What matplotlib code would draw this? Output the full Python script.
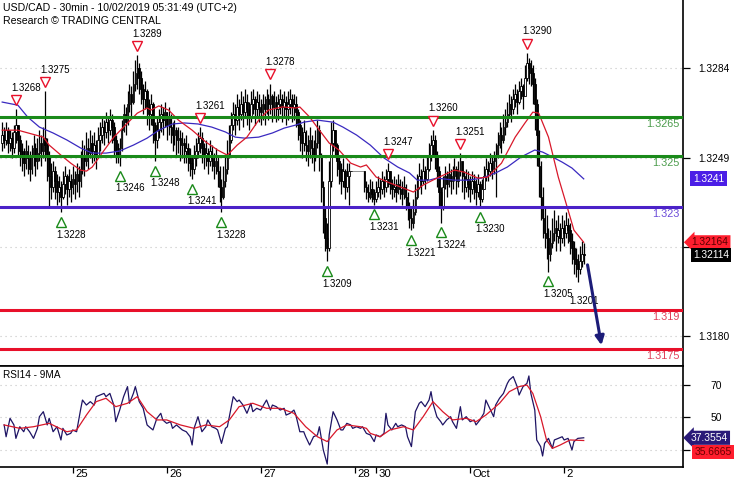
import numpy as np
import matplotlib.pyplot as plt
from matplotlib.transforms import offset_copy, ScaledTranslation, blended_transform_factory

plt.rcParams['font.family'] = ['Liberation Sans', 'DejaVu Sans']

# USD/CAD 30min bars, prices in pips above 1.3200 (one value per bar)
base = 1.3200
first_open_pips = 55
close_pips = [58, 56, 60, 55, 57, 53, 59, 62, 56, 52,
              50, 47, 52, 49, 45, 50, 53, 48, 51, 55,
              52, 57, 54, 50, 42, 38, 44, 40, 36, 38,
              34, 39, 42, 37, 40, 38, 41, 39, 43, 40,
              45, 50, 48, 53, 51, 55, 52, 54, 50, 56,
              58, 61, 59, 63, 60, 64, 61, 56, 52, 50,
              53, 60, 66, 63, 70, 74, 71, 78, 82, 84,
              80, 76, 72, 75, 69, 66, 70, 62, 56, 60,
              63, 66, 64, 67, 62, 65, 61, 58, 60, 56,
              57, 54, 55, 52, 53, 50, 47, 45, 49, 52,
              55, 57, 53, 50, 51, 48, 52, 49, 46, 48,
              44, 38, 34, 40, 45, 50, 56, 62, 66, 64,
              69, 66, 70, 67, 71, 68, 65, 70, 72, 68,
              71, 69, 67, 70, 68, 72, 70, 73, 69, 71,
              68, 70, 72, 69, 71, 68, 70, 72, 69, 70,
              67, 62, 58, 55, 59, 54, 52, 56, 53, 50,
              55, 60, 50, 38, 26, 18, 14, 40, 55, 60,
              54, 48, 45, 40, 44, 38, 42, 44, 44, 44,
              44, 44, 44, 44, 44, 38, 36, 34, 37, 35,
              33, 36, 38, 37, 40, 38, 41, 44, 39, 37,
              38, 36, 39, 37, 35, 38, 34, 30, 26, 24,
              28, 34, 38, 42, 40, 44, 41, 45, 50, 54,
              56, 50, 44, 36, 30, 38, 42, 39, 43, 40,
              42, 45, 40, 44, 48, 42, 38, 41, 39, 37,
              40, 38, 36, 39, 33, 37, 42, 45, 44, 47,
              45, 48, 50, 54, 58, 56, 61, 63, 66, 70,
              68, 72, 74, 71, 75, 77, 73, 80, 86, 84,
              82, 78, 70, 58, 46, 34, 26, 20, 18, 12,
              16, 20, 22, 19, 21, 18, 22, 20, 23, 21,
              17, 14, 10, 8, 6, 9, 12, 11.4]
high_pips = [63, 61, 63, 61, 60, 59, 62, 68, 62, 58,
             55, 53, 56, 54, 52, 54, 58, 55, 57, 60,
             58, 61, 75, 57, 52, 47, 48, 46, 43, 42,
             40, 44, 46, 43, 45, 43, 46, 44, 47, 46,
             52, 56, 54, 59, 57, 60, 58, 59, 56, 61,
             63, 65, 64, 67, 65, 68, 66, 63, 58, 55,
             57, 64, 70, 69, 75, 78, 77, 83, 87, 89,
             86, 83, 78, 79, 76, 72, 74, 71, 63, 65,
             68, 70, 69, 71, 67, 69, 66, 63, 64, 61,
             61, 60, 59, 57, 58, 55, 53, 50, 54, 57,
             59, 61, 59, 55, 56, 53, 56, 54, 51, 53,
             50, 46, 41, 46, 50, 56, 62, 67, 71, 70,
             74, 72, 75, 73, 76, 74, 71, 75, 76, 73,
             75, 74, 72, 74, 73, 76, 74, 78, 74, 75,
             73, 74, 76, 74, 75, 73, 75, 76, 74, 74,
             73, 68, 64, 61, 64, 60, 58, 61, 58, 56,
             60, 64, 62, 51, 40, 30, 24, 48, 63, 64,
             60, 55, 50, 47, 49, 45, 47, 47, 44, 44,
             44, 44, 44, 44, 44, 44, 40, 39, 41, 40,
             37, 40, 42, 41, 44, 42, 45, 47, 44, 41,
             42, 41, 43, 41, 40, 42, 39, 36, 32, 30,
             33, 39, 43, 47, 45, 49, 46, 50, 55, 58,
             60, 58, 52, 46, 38, 42, 46, 44, 47, 45,
             46, 49, 46, 48, 51, 48, 44, 45, 44, 42,
             44, 43, 41, 43, 40, 41, 46, 49, 48, 51,
             50, 52, 55, 59, 63, 61, 66, 68, 71, 74,
             73, 76, 78, 76, 79, 80, 78, 85, 90, 88,
             87, 85, 80, 72, 60, 48, 38, 30, 27, 22,
             21, 26, 29, 25, 27, 24, 27, 25, 28, 26,
             24, 20, 17, 14, 12, 15, 17, 16]
low_pips = [52, 53, 54, 51, 52, 49, 51, 55, 50, 46,
            44, 42, 45, 43, 40, 43, 46, 42, 45, 48,
            46, 49, 48, 40, 30, 33, 36, 33, 31, 32,
            28, 33, 35, 31, 34, 32, 35, 33, 36, 34,
            38, 43, 42, 46, 45, 49, 47, 48, 45, 49,
            52, 55, 54, 57, 55, 58, 55, 50, 47, 47,
            46, 52, 59, 58, 62, 67, 65, 70, 75, 76,
            74, 70, 66, 68, 62, 60, 62, 55, 48, 53,
            57, 59, 58, 61, 56, 58, 55, 52, 54, 50,
            51, 48, 49, 47, 47, 44, 42, 41, 43, 46,
            49, 51, 47, 45, 46, 43, 46, 44, 41, 43,
            38, 32, 28, 33, 38, 43, 49, 55, 60, 58,
            62, 60, 64, 61, 65, 62, 60, 63, 66, 62,
            65, 63, 62, 64, 62, 66, 64, 66, 63, 65,
            63, 64, 66, 63, 65, 62, 64, 66, 63, 64,
            61, 56, 52, 49, 52, 48, 46, 49, 47, 44,
            48, 53, 44, 32, 20, 13, 9, 13, 38, 52,
            50, 42, 39, 35, 38, 33, 36, 31, 44, 44,
            44, 44, 44, 44, 44, 36, 33, 32, 33, 32,
            31, 32, 34, 33, 35, 34, 36, 38, 35, 33,
            34, 32, 35, 33, 31, 33, 29, 25, 22, 21,
            22, 27, 33, 37, 35, 39, 37, 40, 44, 48,
            50, 45, 38, 30, 24, 29, 37, 34, 38, 35,
            37, 40, 35, 38, 42, 36, 33, 36, 34, 32,
            35, 33, 31, 34, 30, 32, 37, 40, 40, 42,
            41, 43, 34, 49, 53, 51, 55, 58, 61, 65,
            63, 66, 69, 66, 70, 72, 68, 73, 79, 78,
            77, 70, 60, 46, 34, 25, 18, 14, 10, 5,
            9, 14, 17, 13, 16, 13, 16, 15, 18, 16,
            12, 8, 4, 3, 1, 4, 7, 8]

# moving averages (bar index, pips above 1.3200)
red_ma_bar = [0, 8, 21, 24, 30, 35, 40, 43, 46, 51, 57, 62, 69, 74, 76, 80, 85, 90, 97,
              104, 110, 115, 120, 125, 131, 136, 143, 150, 152, 157, 162, 167, 172, 178,
              183, 186, 191, 198, 205, 210, 215, 222, 231, 236, 243, 248, 255, 262, 267,
              271, 274, 279, 284, 289, 292, 297]
red_ma_pips = [59.9, 59.9, 57.2, 54.1, 50.2, 47.1, 44.4, 44.0, 45.6, 51.0, 57.2, 61.1, 66.5,
               68.5, 67.7, 69.3, 67.7, 63.8, 59.9, 55.3, 52.2, 50.2, 54.1, 57.2, 63.8, 67.7,
               68.9, 68.5, 68.9, 65.0, 59.9, 54.9, 52.2, 47.1, 45.6, 46.4, 41.7, 39.4, 37.4,
               35.9, 38.6, 41.3, 44.4, 43.6, 41.3, 41.7, 47.1, 57.2, 62.7, 66.9, 66.5, 57.2,
               41.7, 28.9, 21.1, 16.4]
blue_ma_bar = [0, 8, 13, 19, 26, 33, 40, 46, 53, 60, 67, 74, 80, 87, 93, 100, 107, 114, 119,
               124, 131, 138, 144, 150, 154, 161, 169, 174, 181, 188, 195, 202, 208, 212,
               218, 222, 231, 238, 245, 252, 258, 265, 272, 276, 281, 286, 291, 297]
blue_ma_pips = [70.8, 69.6, 65.0, 61.1, 58.8, 56.1, 53.0, 51.0, 51.0, 51.8, 54.1, 56.8, 59.9,
                62.3, 62.7, 62.3, 61.1, 59.2, 57.2, 56.8, 57.2, 58.8, 60.7, 61.9, 63.0, 63.8,
                63.0, 61.1, 58.0, 54.1, 49.1, 45.6, 43.3, 40.5, 40.5, 41.3, 40.5, 40.5, 41.3,
                43.3, 45.6, 49.5, 52.2, 51.4, 49.5, 47.5, 45.2, 41.0]

# RSI14 and its 9-period MA
rsi_bar = [1, 2, 4, 6, 7, 9, 11, 12, 14, 16, 18, 19, 21, 23, 24, 26, 28, 30, 31, 33, 35, 36,
           38, 40, 41, 43, 45, 47, 48, 50, 52, 53, 55, 57, 58, 60, 62, 64, 65, 67, 68, 70,
           72, 74, 75, 77, 79, 81, 82, 84, 86, 87, 89, 91, 92, 94, 96, 97, 98, 100, 102,
           104, 105, 107, 109, 110, 112, 114, 115, 117, 118, 120, 121, 123, 125, 127, 128,
           130, 132, 133, 135, 137, 138, 140, 142, 144, 145, 147, 149, 150, 152, 154, 155,
           157, 159, 161, 162, 164, 166, 167, 169, 171, 173, 174, 176, 178, 179, 181, 183,
           184, 186, 188, 190, 191, 193, 195, 196, 197, 199, 201, 202, 204, 206, 207, 209,
           211, 213, 214, 216, 218, 219, 220, 222, 224, 225, 227, 229, 230, 232, 234, 235,
           237, 239, 241, 242, 244, 246, 247, 249, 251, 252, 254, 256, 258, 259, 261, 263,
           264, 266, 268, 269, 270, 272, 273, 275, 276, 277, 279, 281, 282, 284, 286, 287,
           289, 291, 292, 294, 297]
rsi_val = [45.3, 38.0, 49.4, 45.3, 37.0, 44.2, 41.1, 44.2, 41.1, 37.0, 43.2, 50.4, 53.5, 45.3,
           49.4, 41.1, 44.2, 36.0, 43.2, 39.1, 40.1, 42.2, 41.1, 54.5, 60.7, 57.6, 59.7, 57.6,
           62.8, 63.8, 64.8, 62.8, 64.8, 57.6, 47.3, 54.5, 62.8, 69.0, 58.7, 64.8, 69.0, 59.7,
           55.6, 45.3, 44.2, 42.2, 49.4, 52.5, 48.4, 46.3, 47.3, 43.2, 45.3, 43.2, 42.2, 41.1,
           38.0, 32.9, 43.2, 50.4, 41.1, 44.2, 48.4, 44.2, 43.2, 42.2, 33.9, 43.2, 44.2, 56.6,
           62.8, 59.7, 60.7, 57.6, 52.5, 58.7, 53.5, 55.6, 54.5, 56.6, 60.7, 54.5, 57.6, 56.6,
           54.5, 55.6, 51.4, 52.5, 54.5, 51.4, 41.1, 41.1, 38.0, 32.9, 38.0, 39.1, 44.2, 29.8,
           21.1, 39.1, 53.5, 48.4, 42.2, 42.2, 46.3, 45.3, 43.2, 44.2, 43.2, 44.2, 40.1, 39.1,
           35.0, 39.1, 38.0, 40.1, 52.5, 45.3, 42.2, 46.3, 44.2, 45.3, 44.2, 38.0, 31.9, 53.5,
           58.7, 59.7, 56.6, 60.7, 65.9, 58.7, 50.4, 47.3, 45.3, 48.4, 50.4, 47.3, 43.2, 56.6,
           48.4, 50.4, 47.3, 48.4, 45.3, 48.4, 52.5, 60.7, 55.6, 50.4, 57.6, 61.8, 64.8, 71.0,
           73.1, 75.2, 69.0, 63.8, 69.0, 71.0, 75.6, 64.8, 54.5, 36.0, 31.9, 26.1, 33.9, 37.0,
           30.8, 36.0, 37.0, 38.0, 36.0, 37.0, 29.8, 35.0, 37.0, 37.3554]
rsi_ma_bar = [1, 9, 16, 24, 33, 38, 43, 48, 53, 58, 64, 69, 74, 79, 84, 91, 98, 104, 111, 116,
              121, 128, 135, 142, 149, 155, 161, 166, 171, 176, 183, 186, 188, 193, 198, 205,
              210, 215, 220, 225, 230, 237, 242, 247, 254, 259, 264, 268, 271, 275, 278, 281,
              285, 290, 297]
rsi_ma_val = [45.3, 43.2, 44.2, 46.3, 41.1, 42.2, 51.4, 59.7, 61.8, 56.6, 58.7, 62.8, 53.5,
              48.4, 48.4, 45.3, 43.2, 45.3, 44.2, 48.4, 56.6, 58.7, 55.6, 55.6, 52.5, 44.2,
              38.0, 35.0, 42.2, 45.3, 44.2, 43.2, 40.1, 38.0, 42.2, 44.2, 42.2, 50.4, 59.7,
              53.5, 48.4, 49.4, 47.3, 51.4, 58.7, 65.9, 69.0, 70.0, 64.8, 50.4, 36.0, 30.8,
              32.9, 36.0, 35.6665]

# marked swing highs / lows
top_bars = [7, 22, 69, 101, 137, 197, 220, 234, 268]
top_prices = [1.3268, 1.3275, 1.3289, 1.3261, 1.3278, 1.3247, 1.3260, 1.3251, 1.3290]
bottom_bars = [30, 60, 78, 97, 112, 166, 190, 209, 224, 244, 279]
bottom_prices = [1.3228, 1.3246, 1.3248, 1.3241, 1.3228, 1.3209, 1.3231, 1.3221, 1.3224, 1.3230, 1.3205]
last_low_bar, last_low_price = 294, 1.3201

# key levels
levels = [1.3265, 1.3250, 1.3230, 1.3190, 1.3175]
level_labels = ['1.3265', '1.325', '1.323', '1.319', '1.3175']
level_colors = ['#1a8a1a', '#1a8a1a', '#4b22c8', '#e8102a', '#e8102a']
level_text_colors = ['#4c9c4c', '#4c9c4c', '#6a4ad8', '#e0405a', '#e0405a']

day_ticks = [36, 84, 132, 180, 191, 239, 287]
day_labels = ['25', '26', '27', '28', '30', 'Oct', '2']
price_ticks = [1.3284, 1.3249, 1.32145, 1.3180]
price_tick_labels = ['1.3284', '1.3249', '', '1.3180']
rsi_ticks = [70, 50, 30]
rsi_tick_labels = ['70', '50', '']

# ---- build arrays
x = np.arange(len(close_pips))
close = base + np.array(close_pips) / 10000
high = base + np.array(high_pips) / 10000
low = base + np.array(low_pips) / 10000
opn = np.r_[base + first_open_pips / 10000, close[:-1]]
red_ma = base + np.array(red_ma_pips) / 10000
blue_ma = base + np.array(blue_ma_pips) / 10000

W, H = 735, 480
fig = plt.figure(figsize=(W / 100, H / 100), dpi=100)
ax = fig.add_axes([0, (H - 366) / H, 683 / W, 366 / H])
ax2 = fig.add_axes([0, (H - 467) / H, 683 / W, 101 / H], sharex=ax)

ax.set_xlim(-1.12, 347.7)
ax.set_ylim(1.31684, 1.33104)
ax2.set_ylim(19.29, 81.75)

# grid
for a in (ax, ax2):
    a.grid(axis='y', color='#c4c4c4', linestyle=(0, (1, 3.5)), lw=0.8)
    a.set_axisbelow(True)
    a.spines['left'].set_visible(False)
    a.spines['right'].set_linewidth(1.2)
ax.spines['top'].set_visible(False)
ax.spines['bottom'].set_linewidth(1.2)
ax2.spines['top'].set_linewidth(1.2)
ax2.spines['bottom'].set_linewidth(1.2)

# candles
up = close >= opn
ax.vlines(x, low, high, color='black', lw=0.9, zorder=2)
ax.bar(x, np.abs(close - opn), bottom=np.minimum(close, opn), width=0.8,
       color=np.where(up, 'white', 'black'), edgecolor='black', lw=0.6, zorder=2)

# moving averages
ax.plot(blue_ma_bar, blue_ma, color='#3a2ac0', lw=0.9, zorder=3)
ax.plot(red_ma_bar, red_ma, color='#d8182a', lw=0.9, zorder=3)

# levels
for lv, lab, c, tc in zip(levels, level_labels, level_colors, level_text_colors):
    ax.axhline(lv, color=c, lw=2.2, zorder=4)
    ax.text(680 / 683, lv, lab, color=tc, fontsize=7.8, ha='right', va='top',
            transform=offset_copy(blended_transform_factory(ax.transAxes, ax.transData),
                                  fig=fig, y=-1.5, units='points'), zorder=5)

# swing markers
tr_top = offset_copy(ax.transData, fig=fig, y=6.5, units='points')
tr_top_txt = offset_copy(ax.transData, fig=fig, x=-3.5, y=15.5, units='points')
ax.plot(top_bars, top_prices, 'v', ms=7, mfc='white', mec='#e8102a', mew=1.0,
        ls='none', transform=tr_top, zorder=6)
for b, p in zip(top_bars, top_prices):
    ax.text(b, p, f'{p:.4f}', fontsize=7, ha='left', va='center', transform=tr_top_txt, zorder=6)
tr_bot = offset_copy(ax.transData, fig=fig, y=-7, units='points')
tr_bot_txt = offset_copy(ax.transData, fig=fig, x=-3.5, y=-16, units='points')
ax.plot(bottom_bars, bottom_prices, '^', ms=7, mfc='white', mec='#1a8a1a', mew=1.0,
        ls='none', transform=tr_bot, zorder=6)
for b, p in zip(bottom_bars, bottom_prices):
    ax.text(b, p, f'{p:.4f}', fontsize=7, ha='left', va='center', transform=tr_bot_txt, zorder=6)
ax.text(last_low_bar, last_low_price, f'{last_low_price:.4f}', fontsize=7, ha='left',
        va='center', transform=offset_copy(ax.transData, fig=fig, x=-6, y=-14, units='points'),
        zorder=6)

# projection arrow to the last target
ax.annotate('', xy=(x[-1] + 9.3, levels[-1] + 0.00004), xytext=(x[-1] + 1.7, close[-1] - 0.00027),
            arrowprops=dict(arrowstyle='-|>', color='#1c1c78', lw=2.2, mutation_scale=13),
            zorder=7)

# right price axis
ax.yaxis.tick_right()
ax.set_yticks(price_ticks, price_tick_labels)
ax.tick_params(axis='y', direction='out', length=5, width=0.9, pad=6, labelsize=7.4)
ax.tick_params(axis='x', bottom=False, labelbottom=False)

bl = blended_transform_factory(ax.transAxes, ax.transData)
ax.text(1.0145, blue_ma[-1], f'{blue_ma[-1]:.4f}', transform=bl, color='white', fontsize=7.4,
        ha='left', va='center', bbox=dict(boxstyle='square,pad=0.25', fc='#4b1ee6', ec='none'),
        clip_on=False)
ax.text(1.0125, red_ma[-1], f'{red_ma[-1]:.5f}', transform=bl, color='#5a0000', fontsize=7.4,
        ha='left', va='center', bbox=dict(boxstyle='larrow,pad=0.2', fc='#ff1e2e', ec='none'),
        clip_on=False)
ax.text(1.0145, close[-1], f'{close[-1]:.5f}', transform=bl, color='white', fontsize=7.4,
        ha='left', va='center', bbox=dict(boxstyle='square,pad=0.2', fc='black', ec='none'),
        clip_on=False)

# RSI panel
ax2.plot(rsi_bar, rsi_val, color='#1e1464', lw=0.9)
ax2.plot(rsi_ma_bar, rsi_ma_val, color='#d8182a', lw=0.9)
ax2.yaxis.tick_right()
ax2.set_yticks(rsi_ticks, rsi_tick_labels)
ax2.tick_params(axis='y', direction='out', length=5, width=0.9, pad=15, labelsize=7.4)
ax2.set_xticks(day_ticks, day_labels)
ax2.tick_params(axis='x', direction='out', length=4, width=0.9, pad=-2.4, labelsize=8.2)
for lab in ax2.get_xticklabels():
    lab.set_ha('left')
    lab.set_transform(lab.get_transform() + ScaledTranslation(2.5 / 100, 0, fig.dpi_scale_trans))
ax2.text(3 / 683, 0.91, 'RSI14 - 9MA', transform=ax2.transAxes, fontsize=7.2, va='center')

bl2 = blended_transform_factory(ax2.transAxes, ax2.transData)
ax2.text(1.0115, rsi_val[-1], f'{rsi_val[-1]:.4f}', transform=bl2, color='white', fontsize=7.4,
         ha='left', va='center', bbox=dict(boxstyle='larrow,pad=0.2', fc='#2a1a78', ec='none'),
         clip_on=False)
ax2.text(1.0115, rsi_ma_val[-1], f'{rsi_ma_val[-1]:.4f}', color='#6a0000', fontsize=7.4,
         ha='left', va='center', bbox=dict(boxstyle='square,pad=0.2', fc='#ff1e2e', ec='none'),
         transform=offset_copy(bl2, fig=fig, x=2.5, y=-8, units='points'), clip_on=False)

# header text
fig.text(3 / W, 1 - 8 / H, 'USD/CAD - 30min - 10/02/2019 05:31:49 (UTC+2)', fontsize=7.6, va='center')
fig.text(3 / W, 1 - 21 / H, 'Research © TRADING CENTRAL', fontsize=7.6, va='center')

fig.savefig('out.png', dpi=100)
